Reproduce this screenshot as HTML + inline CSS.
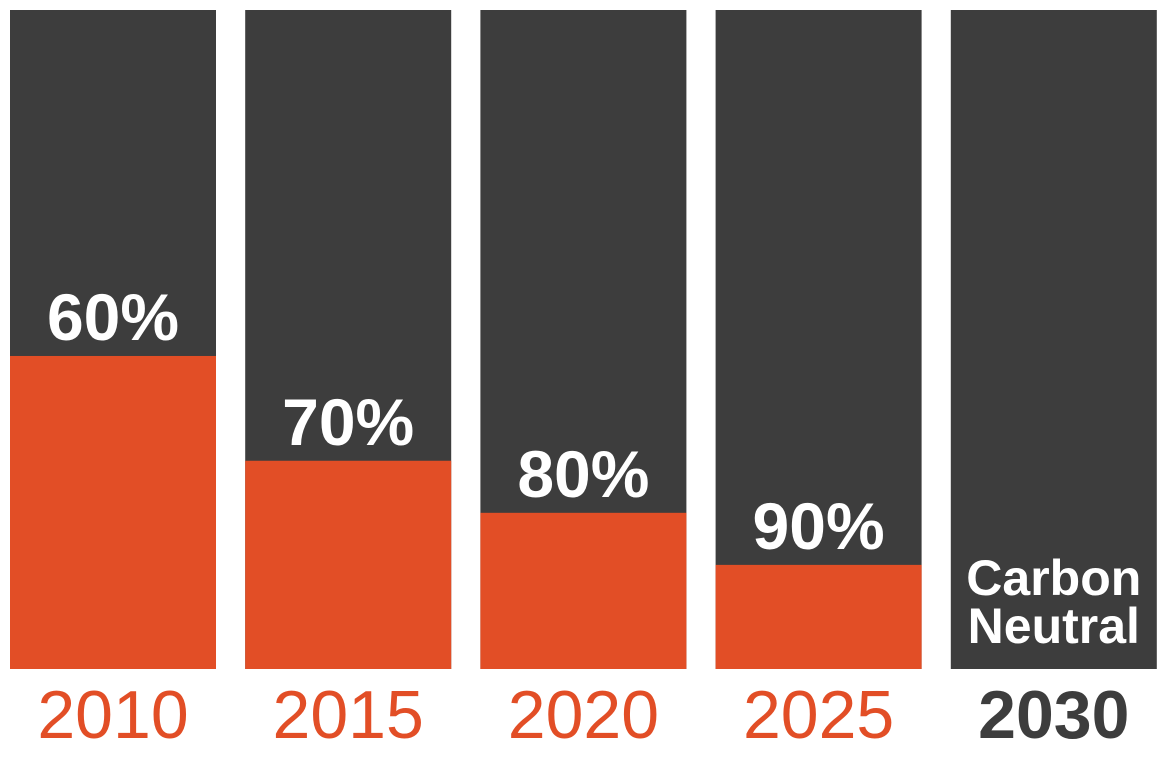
<!DOCTYPE html>
<html><head><meta charset="utf-8"><style>
html,body{margin:0;padding:0;background:#fff;}
svg{display:block;font-family:"Liberation Sans",Arial,sans-serif;}
</style></head><body>
<svg id="chart" width="1168" height="772" viewBox="0 0 1168 772"></svg>
<script>
const categories = ["2010","2015","2020","2025","2030"];
const remainingShare = [47.5, 31.6, 23.7, 15.8, 0];
const valueLabels = ["60%","70%","80%","90%",""];
const NS="http://www.w3.org/2000/svg";
const svg=document.getElementById('chart');
const top0=10, bottom=669, barW=206, x0=10, step=235.2;
const xScale=i=>x0+i*step;
const yScale=v=>bottom-(v/100)*(bottom-top0);
function mk(tag,attrs){const e=document.createElementNS(NS,tag);for(const k in attrs)e.setAttribute(k,attrs[k]);svg.appendChild(e);return e;}
categories.forEach((c,i)=>{
  const x=xScale(i);
  const bg=mk('rect',{x:x,y:top0,width:barW,height:bottom-top0,fill:'#3d3d3d'});
  
  
  const yt=yScale(remainingShare[i]);
  const fg=mk('rect',{x:x,y:yt,width:barW,height:bottom-yt,fill:'#e24e26'});
  
  
  if(valueLabels[i]){
    const t=mk('text',{x:x+barW/2,y:yt-16,'text-anchor':'middle','font-size':66,'font-weight':'bold',fill:'#fff'});
    t.textContent=valueLabels[i];
    
    
  } else {
    const t1=mk('text',{x:x+barW/2,y:595,'text-anchor':'middle','font-size':50,'font-weight':'bold',fill:'#fff'});
    t1.textContent='Carbon';
    
    
    const t2=mk('text',{x:x+barW/2,y:643,'text-anchor':'middle','font-size':50,'font-weight':'bold',fill:'#fff'});
    t2.textContent='Neutral';
    
    
  }
  const last=i===categories.length-1;
  const yl=mk('text',{x:x+barW/2,y:738,'text-anchor':'middle','font-size':68,'font-weight':last?'bold':'normal',fill:last?'#3d3d3d':'#e24e26'});
  yl.textContent=c;
  
  
});
</script>
</body></html>
